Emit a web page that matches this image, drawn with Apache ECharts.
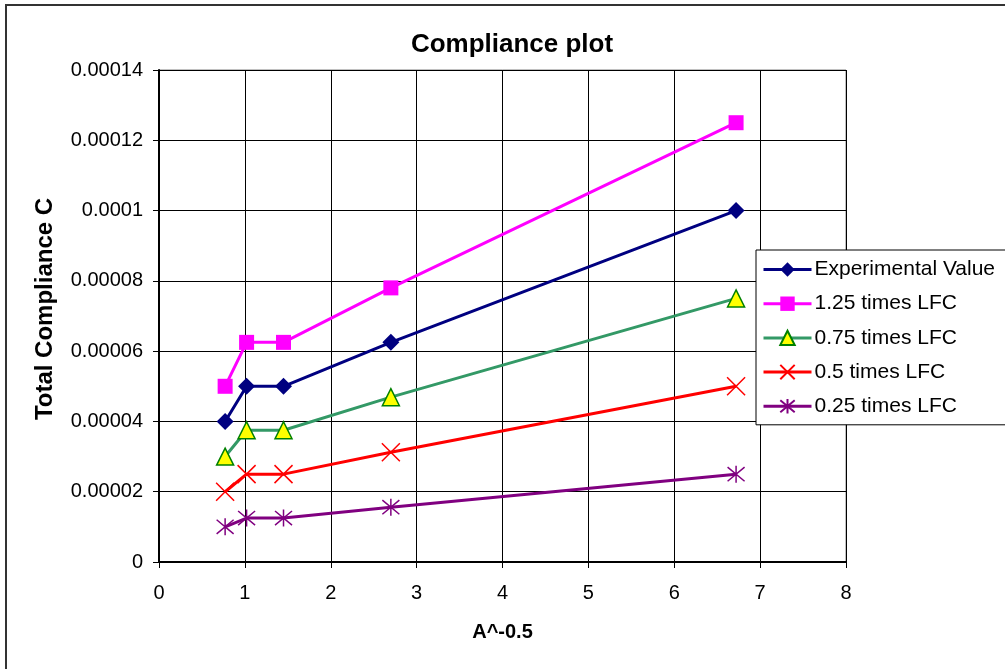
<!DOCTYPE html>
<html>
<head>
<meta charset="utf-8">
<script src="https://cdn.jsdelivr.net/npm/echarts@6/dist/echarts.min.js"></script>
<style>
  html, body { margin: 0; padding: 0; background: #fff; }
  #chart { width: 1005px; height: 669px; position: relative; }
  #frame { position: absolute; left: 5px; top: 4px; width: 1100px; height: 800px;
           border-left: 2px solid #333; border-top: 2px solid #333; pointer-events: none; }
</style>
</head>
<body>
<div id="chart"></div>
<div id="frame"></div>
<script>
// A^-0.5 values of the specimens
const xValues = [0.77, 1.02, 1.45, 2.70, 6.72];

// Total compliance, measured and scaled LFC estimates
const experimental = [0.00004, 0.00005, 0.00005, 0.0000625, 0.0001];
const lfc125 = [0.00005, 0.0000625, 0.0000625, 0.000078, 0.000125];
const lfc075 = [0.00003, 0.0000375, 0.0000375, 0.0000469, 0.000075];
const lfc050 = [0.00002, 0.000025, 0.000025, 0.00003125, 0.00005];
const lfc025 = [0.00001, 0.0000125, 0.0000125, 0.0000156, 0.000025];

const seriesNames = ['Experimental Value', '1.25 times LFC', '0.75 times LFC', '0.5 times LFC', '0.25 times LFC'];
const xTickLabels = ['0', '1', '2', '3', '4', '5', '6', '7', '8'];
const yTickLabels = ['0', '0.00002', '0.00004', '0.00006', '0.00008', '0.0001', '0.00012', '0.00014'];

const pairs = ys => xValues.map((x, i) => [x, ys[i]]);

const crossPath = 'path://M0,0L10,10M10,0L0,10';
const starPath = 'path://M0,1L10,11M10,1L0,11M5,0L5,12';

const font = 'Liberation Sans, Arial, sans-serif';

function lineSeries(name, data, color, symbol, size, extra) {
  return Object.assign({
    name: name,
    type: 'line',
    data: pairs(data),
    symbol: symbol,
    symbolSize: size,
    lineStyle: { color: color, width: 3 },
    itemStyle: { color: color },
    animation: false
  }, extra || {});
}

const chart = echarts.init(document.getElementById('chart'), null, { renderer: 'canvas' });
chart.setOption({
  backgroundColor: '#fff',
  title: {
    text: 'Compliance plot',
    left: 507, top: 27, textAlign: 'center',
    textStyle: { fontFamily: font, fontSize: 26, fontWeight: 'bold', color: '#000' }
  },
  grid: {
    left: 159, top: 70, right: 159, bottom: 107,
    show: true, borderColor: '#808080', borderWidth: 1, backgroundColor: '#fff'
  },
  legend: {
    orient: 'vertical',
    left: 756, top: 250,
    padding: [9, 40, 8, 6],
    backgroundColor: '#fff',
    borderColor: '#000', borderWidth: 1,
    itemWidth: 48, itemHeight: 18, itemGap: 13.2,
    lineStyle: { width: 3 },
    textStyle: { fontFamily: font, fontSize: 21, color: '#000', padding: [0, 0, 0, -2] },
    data: seriesNames
  },
  xAxis: {
    type: 'value', min: 0, max: 8, interval: 1,
    name: 'A^-0.5', nameLocation: 'middle', nameGap: 60,
    nameTextStyle: { fontFamily: font, fontSize: 20, fontWeight: 'bold', color: '#000' },
    axisLine: { show: true, onZero: false, lineStyle: { color: '#000', width: 2 } },
    axisTick: { show: true, length: 6, lineStyle: { color: '#000' } },
    axisLabel: {
      fontFamily: font, fontSize: 20, color: '#000', margin: 21,
      formatter: v => xTickLabels[Math.round(v)]
    },
    splitLine: { show: true, lineStyle: { color: '#000', width: 1 } }
  },
  yAxis: {
    type: 'value', min: 0, max: 0.00014, interval: 0.00002,
    name: 'Total Compliance C', nameLocation: 'middle', nameGap: 102,
    nameTextStyle: { fontFamily: font, fontSize: 24, fontWeight: 'bold', color: '#000', padding: [0, 0, 0, 14] },
    axisLine: { show: true, lineStyle: { color: '#000', width: 2 } },
    axisTick: { show: true, length: 6, lineStyle: { color: '#000' } },
    axisLabel: {
      fontFamily: font, fontSize: 20, color: '#000', margin: 16,
      formatter: v => yTickLabels[Math.round(v / 0.00002)]
    },
    splitLine: { show: true, lineStyle: { color: '#000', width: 1 } }
  },
  series: [
    lineSeries(seriesNames[0], experimental, '#000080', 'diamond', 17),
    lineSeries(seriesNames[1], lfc125, '#FF00FF', 'rect', 15),
    lineSeries(seriesNames[2], lfc075, '#339966', 'triangle', 17, {
      itemStyle: { color: '#FFFF00', borderColor: '#008000', borderWidth: 1.5 }
    }),
    lineSeries(seriesNames[3], lfc050, '#FF0000', crossPath, 18, {
      itemStyle: { color: '#FF0000', borderColor: '#FF0000', borderWidth: 1.5 }
    }),
    lineSeries(seriesNames[4], lfc025, '#800080', starPath, 17, {
      itemStyle: { color: '#800080', borderColor: '#800080', borderWidth: 1.5 }
    })
  ]
});
</script>
</body>
</html>
